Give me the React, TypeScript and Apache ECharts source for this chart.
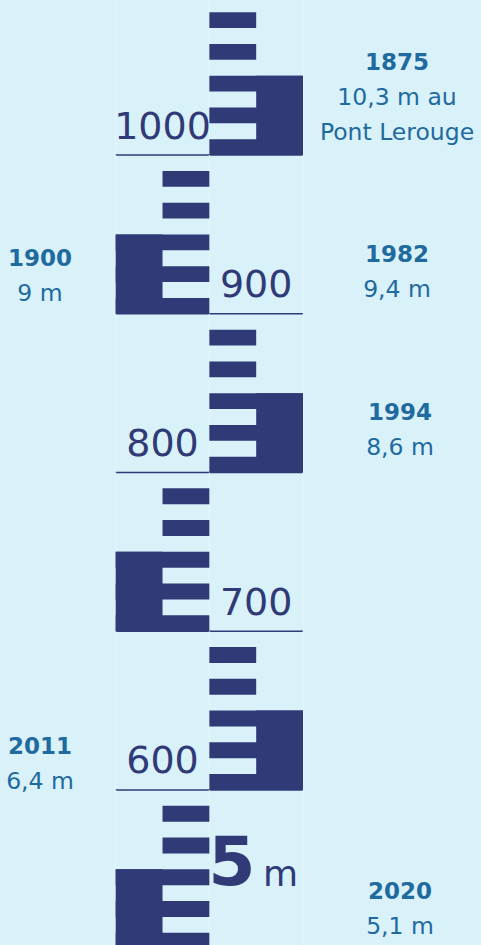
import React, { useEffect, useRef } from "react";
import * as echarts from "echarts";

// ---- data ----
const GAUGE_LEVELS = [1000, 900, 800, 700, 600, 500]; // cm
const GAUGE_LABELS = ["1000", "900", "800", "700", "600", "5m"];
const ARM_OFFSETS = [0, 20, 40]; // cm above each metre line
const ARM_HEIGHT = 10;
const SPINE_HEIGHT = 50;
const TICK_OFFSETS = [60, 80];
const TICK_HEIGHT = 10;

const FLOOD_YEARS = ["1875", "1982", "1994", "1900", "2011", "2020"];
const FLOOD_TEXTS = [
  ["10,3 m au", "Pont Lerouge"],
  ["9,4 m"],
  ["8,6 m"],
  ["9 m"],
  ["6,4 m"],
  ["5,1 m"],
];

// ---- layout / styles ----
const W = 481;
const H = 945;
const BG = "#d9f1f9";
const NAVY = "#2f3a77";
const TEXT = "#1f6a9e";
const FAINT = "#e6f7fc";
const FONT = "'DejaVu Sans', 'Noto Sans', sans-serif";
const NOTE_POS = [
  { x: 397, y: 62 },
  { x: 397, y: 254 },
  { x: 400, y: 412 },
  { x: 40, y: 258 },
  { x: 40, y: 746 },
  { x: 400, y: 891 },
];
const NOTE_LINE = 35;

function renderItem(params: any, api: any) {
  const base = api.value(0) as number;
  const side = api.value(1) as number; // 0 = left column, 1 = right column
  const idx = api.value(2) as number;
  const outer = side === 0 ? [0, 0.5] : [1.5, 2];
  const inner = side === 0 ? [0.5, 1] : [1, 1.5];
  const full = [side, side + 1];
  const rect = (xs: number[], v0: number, v1: number) => {
    const p0 = api.coord([xs[0], v1]);
    const p1 = api.coord([xs[1], v0]);
    return {
      type: "rect",
      shape: { x: p0[0], y: p0[1], width: p1[0] - p0[0], height: p1[1] - p0[1] },
      style: { fill: NAVY },
    };
  };
  const children: any[] = [];
  // faint frame of the metre block
  const f0 = api.coord([0, base + 100]);
  const f1 = api.coord([1, base]);
  const f2 = api.coord([2, base]);
  [f0[0], f1[0], f2[0]].forEach((x) => {
    children.push({
      type: "line",
      shape: { x1: x, y1: f0[1], x2: x, y2: f1[1] },
      style: { stroke: FAINT, lineWidth: 1 },
    });
  });
  children.push(rect(outer, base, base + SPINE_HEIGHT));
  ARM_OFFSETS.forEach((o) => children.push(rect(full, base + o, base + o + ARM_HEIGHT)));
  TICK_OFFSETS.forEach((o) => children.push(rect(inner, base + o, base + o + TICK_HEIGHT)));
  // metre line
  const l0 = api.coord([0, base]);
  const l1 = api.coord([2, base]);
  children.push({
    type: "line",
    shape: { x1: l0[0], y1: l0[1], x2: l1[0], y2: l1[1] },
    style: { stroke: NAVY, lineWidth: 1.5 },
  });
  // label
  const label = GAUGE_LABELS[idx];
  const labelCol = side === 0 ? 1.5 : 0.5;
  const m = /^(\d+)m$/.exec(label);
  if (m) {
    const bl = api.coord([0, base + 40])[1];
    const pNum = api.coord([1.24, base]);
    const pUnit = api.coord([1.76, base]);
    children.push({
      type: "text",
      x: pNum[0],
      y: bl - 24,
      style: {
        text: m[1],
        fontFamily: FONT,
        fontWeight: "bold",
        fontSize: 68,
        fill: NAVY,
        textAlign: "center",
        textVerticalAlign: "middle",
        align: "center",
        verticalAlign: "middle",
      },
    });
    children.push({
      type: "text",
      x: pUnit[0],
      y: bl - 12,
      style: {
        text: "m",
        fontFamily: FONT,
        fontSize: 36,
        fill: NAVY,
        textAlign: "center",
        textVerticalAlign: "middle",
        align: "center",
        verticalAlign: "middle",
      },
    });
  } else {
    const p = api.coord([labelCol, base + 18.6]);
    children.push({
      type: "text",
      x: p[0],
      y: p[1],
      style: {
        text: label,
        fontFamily: FONT,
        fontSize: 38,
        fill: NAVY,
        textAlign: "center",
        textVerticalAlign: "middle",
        align: "center",
        verticalAlign: "middle",
      },
    });
  }
  return { type: "group", children };
}

function buildNotes() {
  const els: any[] = [];
  FLOOD_YEARS.forEach((year, i) => {
    const pos = NOTE_POS[i];
    els.push({
      type: "text",
      x: pos.x,
      y: pos.y,
      style: {
        text: year,
        fontFamily: FONT,
        fontWeight: "bold",
        fontSize: 23,
        fill: TEXT,
        textAlign: "center",
        textVerticalAlign: "middle",
        align: "center",
        verticalAlign: "middle",
      },
    });
    FLOOD_TEXTS[i].forEach((line, k) => {
      els.push({
        type: "text",
        x: pos.x,
        y: pos.y + NOTE_LINE * (k + 1),
        style: {
          text: line,
          fontFamily: FONT,
          fontSize: 23.5,
          fill: TEXT,
          textAlign: "center",
          textVerticalAlign: "middle",
          align: "center",
          verticalAlign: "middle",
        },
      });
    });
  });
  return els;
}

export default function App() {
  const ref = useRef<HTMLDivElement>(null);
  useEffect(() => {
    if (!ref.current) return;
    const chart = echarts.init(ref.current, undefined, { renderer: "svg" });
    chart.setOption({
      animation: false,
      backgroundColor: BG,
      grid: { left: 115.7, right: W - 303, top: 0, bottom: 0 },
      xAxis: { type: "value", min: 0, max: 2, show: false },
      yAxis: { type: "value", min: 502.3, max: 1097.7, show: false },
      series: [
        {
          type: "custom",
          renderItem,
          clip: false,
          data: GAUGE_LEVELS.map((lv, i) => [lv, i % 2 === 0 ? 1 : 0, i]),
        },
      ],
      graphic: buildNotes(),
    });
    return () => chart.dispose();
  }, []);
  return (
    <div
      ref={ref}
      style={{ position: "absolute", left: 0, top: 0, width: W, height: H, background: BG }}
    />
  );
}
